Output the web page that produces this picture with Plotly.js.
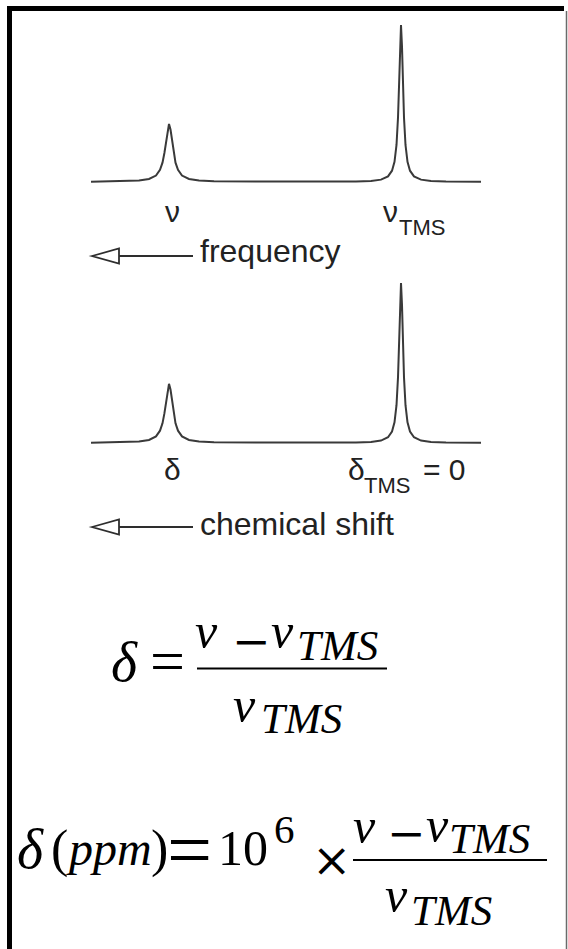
<!DOCTYPE html>
<html>
<head>
<meta charset="utf-8">
<script src="https://cdn.plot.ly/plotly-3.0.1.min.js"></script>
<style>
  html, body { margin: 0; padding: 0; background: #ffffff; overflow: hidden; }
  #chart { width: 568px; height: 949px; }
</style>
</head>
<body>
<div id="chart"></div>
<script>
// ---- Data ----
// Frequency offset from TMS (arbitrary Hz-like units, larger to the left)
const freqOffset = [310, 277, 262, 252, 245, 241, 238.5, 236.6, 235, 233.5, 232, 230.5, 229, 227.4, 225.5, 223, 219, 212, 202, 187,
                    120,
                    45, 30, 20, 13, 9, 6.5, 4.5, 3, 2, 1, 0, -1, -2, -3, -4.5, -6.5, -9, -13, -20, -30, -45, -80];
// Relative intensity (TMS peak = 1)
const intensity = [0.001, 0.004, 0.009, 0.019, 0.041, 0.077, 0.123, 0.185, 0.26, 0.334, 0.37, 0.334, 0.26, 0.185, 0.123, 0.077, 0.041, 0.019, 0.009, 0.004,
                   0.002,
                   0.003, 0.007, 0.015, 0.036, 0.072, 0.129, 0.236, 0.41, 0.61, 0.862, 1.0, 0.862, 0.61, 0.41, 0.236, 0.129, 0.072, 0.036, 0.015, 0.007, 0.003, 0.001];
// Peak positions used for the peak labels
const peakSample = 232;
const peakTMS = 0;
// Texts
const topLabels = ["ν", "ν", "TMS"];
const topArrowText = "frequency";
const bottomLabels = ["δ", "δ", "TMS", "= 0"];
const bottomArrowText = "chemical shift";

// ---- Page geometry helpers (layout only) ----
const W = 568, H = 949;
const px = v => v / W;
const py = v => 1 - v / H;
const SANS = "Liberation Sans, Arial, sans-serif";
const SERIF = "Liberation Serif, Times New Roman, serif";
const OPFONT = "DejaVu Serif, serif";
const K = {sans: 0.3465, serif: 0.3375};

function ann(text, x, baseline, fs, kind, opts) {
  opts = opts || {};
  const k = kind === 'serif' ? K.serif : K.sans;
  return Object.assign({
    xref: 'paper', yref: 'paper',
    x: px(x), y: py(baseline - k * fs),
    xanchor: 'left', yanchor: 'middle',
    text: text, showarrow: false, borderpad: 0, borderwidth: 0,
    font: {family: kind === 'serif' ? SERIF : SANS, size: fs, color: kind === 'serif' ? '#000000' : '#222222'}
  }, opts);
}
// "=" glyph centred on (xc, yc); math axis of Times is ~0.25em above baseline
function eq(xc, yc, fs) {
  return ann('=', xc, yc + 0.25 * fs, fs, 'serif', {x: px(xc), xanchor: 'center'});
}
// minus / times glyphs (DejaVu Serif), centred on (xc, yc)
function op(text, xc, yc, fs) {
  return {
    xref: 'paper', yref: 'paper', x: px(xc), y: py(yc - 0.04 * fs),
    xanchor: 'center', yanchor: 'middle',
    text: text, showarrow: false, borderpad: 0, borderwidth: 0,
    font: {family: OPFONT, size: fs, color: '#000000'}
  };
}
function annData(text, xData, xaxis, baseline, fs, shift) {
  return {
    xref: xaxis, yref: 'paper', x: xData, y: py(baseline - K.sans * fs),
    xanchor: 'center', yanchor: 'middle', xshift: shift,
    text: text, showarrow: false, borderpad: 0, borderwidth: 0,
    font: {family: SANS, size: fs, color: '#222222'}
  };
}

const lineStyle = {color: '#3a3a3a', width: 2};
const traces = [
  {x: freqOffset, y: intensity, xaxis: 'x', yaxis: 'y', mode: 'lines', line: lineStyle, hoverinfo: 'skip'},
  {x: freqOffset, y: intensity, xaxis: 'x2', yaxis: 'y2', mode: 'lines', line: lineStyle, hoverinfo: 'skip'}
];

const xDom = [px(91), px(481)];
const hidden = {visible: false, fixedrange: true, showgrid: false, zeroline: false};

const NU = 50, SUB = 43;
const annotations = [
  // top spectrum labels
  annData(topLabels[0], peakSample, 'x', 222, 30, 3),
  annData(topLabels[1], peakTMS, 'x', 222, 30, -11),
  ann(topLabels[2], 399, 235, 22, 'sans'),
  ann(topArrowText, 200, 262, 32, 'sans'),
  // bottom spectrum labels
  annData(bottomLabels[0], peakSample, 'x2', 480, 30, 3),
  annData(bottomLabels[1], peakTMS, 'x2', 480, 30, -45),
  ann(bottomLabels[2], 364, 493, 22, 'sans'),
  ann(bottomLabels[3], 423, 480, 30, 'sans'),
  ann(bottomArrowText, 200, 535, 32, 'sans'),
  // formula 1
  ann('<i>δ</i>', 111, 681, 56, 'serif'),
  eq(167.5, 666.5, 62),
  ann('<i>ν</i>', 195, 648, NU, 'serif'),
  op('−', 251, 643, 46),
  ann('<i>ν</i>', 271, 648, NU, 'serif'),
  ann('<i>TMS</i>', 297, 660, SUB, 'serif'),
  ann('<i>ν</i>', 233, 722, NU, 'serif'),
  ann('<i>TMS</i>', 261, 733, SUB, 'serif'),
  // formula 2
  ann('<i>δ</i>', 17, 868, 56, 'serif'),
  ann('(', 51, 867, 52, 'serif'),
  ann('<i>ppm</i>', 66, 865, 48, 'serif'),
  ann(')', 151, 867, 52, 'serif'),
  eq(189.5, 856.5, 80),
  ann('10', 218, 865, 50, 'serif'),
  ann('6', 274, 843, 41, 'serif'),
  op('×', 331.5, 861, 47),
  ann('<i>ν</i>', 353, 843, NU, 'serif'),
  op('−', 406.5, 835, 46),
  ann('<i>ν</i>', 426, 842, NU, 'serif'),
  ann('<i>TMS</i>', 449, 853, SUB, 'serif'),
  ann('<i>ν</i>', 385, 912, NU, 'serif'),
  ann('<i>TMS</i>', 411, 925, SUB, 'serif')
];

function arrowShapes(yc) {
  return [
    {type: 'line', xref: 'paper', yref: 'paper', x0: px(119), x1: px(193), y0: py(yc), y1: py(yc),
     line: {color: '#2e2e2e', width: 2.2}},
    {type: 'path', xref: 'paper', yref: 'paper',
     path: `M ${px(92)} ${py(yc)} L ${px(119)} ${py(yc - 7.5)} L ${px(119)} ${py(yc + 7.5)} Z`,
     fillcolor: '#ffffff', line: {color: '#2e2e2e', width: 1.8}}
  ];
}

const shapes = [
  // frame
  {type: 'path', xref: 'paper', yref: 'paper',
   path: `M ${px(9.5)} ${py(960)} L ${px(9.5)} ${py(8.5)} L ${px(564)} ${py(8.5)}`,
   line: {color: '#000000', width: 5}},
  {type: 'line', xref: 'paper', yref: 'paper', x0: px(566.5), x1: px(566.5), y0: py(11), y1: py(960),
   line: {color: '#6a6a6a', width: 1.5}},
  ...arrowShapes(256),
  ...arrowShapes(527),
  // fraction bars
  {type: 'line', xref: 'paper', yref: 'paper', x0: px(197), x1: px(387), y0: py(668.5), y1: py(668.5),
   line: {color: '#000000', width: 2}},
  {type: 'line', xref: 'paper', yref: 'paper', x0: px(353), x1: px(547), y0: py(860), y1: py(860),
   line: {color: '#000000', width: 2}}
];

const layout = {
  width: W, height: H,
  margin: {l: 0, r: 0, t: 0, b: 0, pad: 0},
  paper_bgcolor: '#ffffff', plot_bgcolor: 'rgba(0,0,0,0)',
  showlegend: false,
  xaxis: Object.assign({domain: xDom, range: [310, -80], anchor: 'y'}, hidden),
  yaxis: Object.assign({domain: [py(197.7), py(9.3)], range: [-0.1, 1.1], anchor: 'x'}, hidden),
  xaxis2: Object.assign({domain: xDom, range: [310, -80], anchor: 'y2'}, hidden),
  yaxis2: Object.assign({domain: [py(459), py(267)], range: [-0.1, 1.1], anchor: 'x2'}, hidden),
  annotations: annotations,
  shapes: shapes
};

Plotly.newPlot('chart', traces, layout, {staticPlot: true, displayModeBar: false});
</script>
</body>
</html>
